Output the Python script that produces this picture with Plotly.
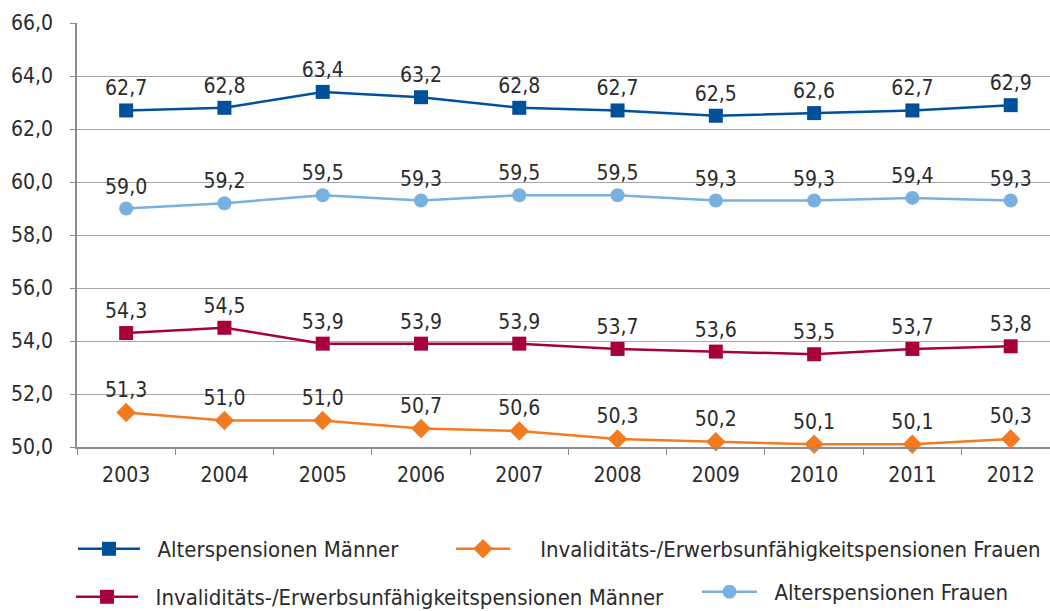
import plotly.graph_objects as go

years = ["2003", "2004", "2005", "2006", "2007", "2008", "2009", "2010", "2011", "2012"]
alters_maenner = [62.7, 62.8, 63.4, 63.2, 62.8, 62.7, 62.5, 62.6, 62.7, 62.9]
alters_frauen = [59.0, 59.2, 59.5, 59.3, 59.5, 59.5, 59.3, 59.3, 59.4, 59.3]
inval_maenner = [54.3, 54.5, 53.9, 53.9, 53.9, 53.7, 53.6, 53.5, 53.7, 53.8]
inval_frauen = [51.3, 51.0, 51.0, 50.7, 50.6, 50.3, 50.2, 50.1, 50.1, 50.3]
y_ticks = [50, 52, 54, 56, 58, 60, 62, 64, 66]

FONT = "DejaVu Sans Condensed"
TXT = "#2b2b2b"
NB = "\u00a0"

def fmt(v):
    return f"{v:.1f}".replace(".", ",")

series = [
    ("Alterspensionen Männer", alters_maenner, "#00509a", "square", 14, "legend", 2),
    ("Invaliditäts-/Erwerbsunfähigkeitspensionen Frauen", inval_frauen, "#f47a20", "diamond", 15, "legend2", 4),
    ("Invaliditäts-/Erwerbsunfähigkeitspensionen Männer", inval_maenner, "#a8003c", "square", 14, "legend3", 2),
    ("Alterspensionen Frauen", alters_frauen, "#78b0e0", "circle", 14, "legend4", 2),
]

fig = go.Figure()
for name, vals, color, sym, size, lg, pad in series:
    fig.add_trace(go.Scatter(
        x=years, y=vals, name=NB * pad + name, mode="lines+markers+text",
        line=dict(color=color, width=2.5),
        marker=dict(symbol=sym, size=size, color=color),
        text=[fmt(v) for v in vals], textposition="top center",
        textfont=dict(family=FONT, size=21, color=TXT),
        legend=lg, cliponaxis=False,
    ))

W, H = 1050, 611
L, T, B = 77, 23, 164

def cx(x):
    return x / W

def cy(y):
    return 1 - y / H

def lstyle(iw):
    return dict(font=dict(family=FONT, size=22, color=TXT), itemwidth=iw,
                bgcolor="rgba(0,0,0,0)", borderwidth=0,
                xref="container", yref="container",
                xanchor="left", yanchor="middle")

fig.update_layout(
    width=W, height=H,
    margin=dict(l=L, r=0, t=T, b=B, autoexpand=False),
    plot_bgcolor="white", paper_bgcolor="white",
    separators=",.",
    font=dict(family=FONT, size=21, color=TXT),
    showlegend=True,
    legend=dict(x=cx(73), y=cy(549), **lstyle(62)),
    legend2=dict(x=cx(451), y=cy(549), **lstyle(54)),
    legend3=dict(x=cx(71), y=cy(597), **lstyle(62)),
    legend4=dict(x=cx(697), y=cy(592), **lstyle(55)),
    xaxis=dict(
        type="category", range=[-0.5, 9.4],
        showgrid=False, showline=True, linecolor="#8c8c8c", linewidth=1.5,
        ticks="outside", tickson="boundaries", ticklen=6, tickcolor="#8c8c8c",
        tickfont=dict(family=FONT, size=21, color=TXT),
        ticklabelstandoff=8,
    ),
    yaxis=dict(
        range=[50, 66], tickvals=y_ticks, tickformat=".1f",
        showgrid=True, gridcolor="#a6a6a6", gridwidth=1.2,
        showline=True, linecolor="#8c8c8c", linewidth=1.5,
        ticks="outside", ticklen=5, tickcolor="#8c8c8c",
        tickfont=dict(family=FONT, size=21, color=TXT),
        ticklabelstandoff=13,
        zeroline=False,
    ),
)

fig.write_html("out.html", config={"displayModeBar": False},
               post_script="document.body.style.margin='0';")
